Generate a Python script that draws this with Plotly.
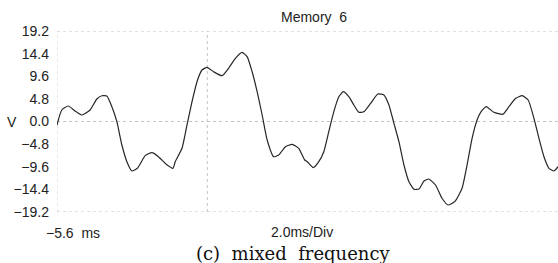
import plotly.graph_objects as go

# time (ms) and voltage (V)
t_ms = [-5.60, -5.41, -5.15, -4.88, -4.61, -4.28, -4.01, -3.81, -3.61, -3.41,
        -3.21, -3.01, -2.81, -2.61, -2.39, -2.08, -1.81, -1.55, -1.24, -0.97,
        -0.88, -0.61, -0.41, -0.21, 0.01, 0.19, 0.39, 0.65, 0.99, 1.25,
        1.52, 1.79, 1.99, 2.19, 2.39, 2.59, 2.79, 3.05, 3.25, 3.52,
        3.79, 4.05, 4.29, 4.39, 4.63, 4.85, 5.05, 5.25, 5.45, 5.65,
        5.83, 6.05, 6.25, 6.45, 6.65, 6.92, 7.21, 7.45, 7.65, 7.85,
        8.05, 8.25, 8.45, 8.65, 8.85, 9.05, 9.24, 9.51, 9.77, 10.01,
        10.28, 10.57, 10.77, 10.97, 11.17, 11.31, 11.53, 11.84, 12.20, 12.44,
        12.71, 12.97, 13.21, 13.44, 13.64, 13.84, 14.04, 14.24, 14.40]
volts = [-0.74, 2.44, 3.29, 2.23, 1.38, 2.44, 4.77, 5.47, 5.41, 3.14,
         -0.04, -4.99, -8.53, -10.50, -9.93, -7.25, -6.62, -7.47, -9.08, -9.93,
         -8.53, -5.69, -0.74, 4.20, 8.80, 10.92, 11.50, 10.56, 9.72, 11.29,
         13.41, 14.68, 13.75, 10.56, 6.32, 1.38, -3.92, -7.47, -7.11, -5.35,
         -4.84, -5.69, -8.17, -8.53, -9.80, -8.53, -6.41, -2.16, 2.08, 5.26,
         6.32, 5.26, 3.50, 1.95, 2.08, 3.86, 5.83, 5.62, 3.50, -0.38,
         -4.29, -9.23, -12.77, -14.38, -14.32, -12.62, -12.20, -13.47, -16.29, -17.71,
         -17.01, -14.17, -9.23, -3.56, 0.32, 1.95, 3.14, 1.95, 1.53, 3.14,
         4.92, 5.47, 4.56, 0.68, -3.56, -7.47, -9.93, -10.50, -9.59]

y_ticks = [19.2, 14.4, 9.6, 4.8, 0.0, -4.8, -9.6, -14.4, -19.2]
x_range = [-5.6, 14.4]
y_range = [-19.2, 19.2]
trigger_ms = 0.4

fig = go.Figure()

grid = dict(color="#c4c4c4", width=1, dash="dot")
for yv in [19.2, 0.0, -19.2]:
    fig.add_shape(type="line", x0=x_range[0], x1=x_range[1], y0=yv, y1=yv,
                  xref="x", yref="y", line=grid, layer="below")
fig.add_shape(type="line", x0=trigger_ms, x1=trigger_ms, y0=y_range[0], y1=y_range[1],
              xref="x", yref="y", line=grid, layer="below")
fig.add_shape(type="line", x0=x_range[0], x1=x_range[0], y0=y_range[0], y1=y_range[1],
              xref="x", yref="y", line=dict(color="#d0d0d0", width=1, dash="dot"), layer="below")

fig.add_trace(go.Scatter(x=t_ms, y=volts, mode="lines",
                         line=dict(color="#262626", width=1.2, shape="spline", smoothing=0.5),
                         hoverinfo="skip", showlegend=False))

font = "Liberation Sans, Arial, sans-serif"
fig.update_layout(
    width=558, height=263,
    margin=dict(l=57, r=0, t=31, b=51),
    paper_bgcolor="white", plot_bgcolor="white",
    font=dict(family=font, size=14, color="#222222"),
    xaxis=dict(range=x_range, showgrid=False, zeroline=False, showticklabels=False,
               showline=False, ticks=""),
    yaxis=dict(range=y_range, tickvals=y_ticks, tickformat=".1f", showgrid=False,
               zeroline=False, showline=False, ticks="", ticklabelstandoff=7,
               tickfont=dict(family=font, size=14, color="#222222")),
)

ann = [
    dict(text="Memory  6", x=0.513, y=1.077, xanchor="center", yanchor="middle", font=dict(size=14)),
    dict(text="V", x=-0.104, y=0.497, xanchor="left", yanchor="middle", font=dict(size=14)),
    dict(text="−5.6  ms", x=-0.026, y=-0.116, xanchor="left", yanchor="middle", font=dict(size=14)),
    dict(text="2.0ms/Div", x=0.489, y=-0.113, xanchor="center", yanchor="middle", font=dict(size=14)),
    dict(text="(c)  mixed  frequency", x=0.472, y=-0.227, xanchor="center", yanchor="middle",
         font=dict(family="DejaVu Serif, Liberation Serif, serif", size=18, color="#111111")),
]
for a in ann:
    a.update(xref="paper", yref="paper", showarrow=False)
    fig.add_annotation(**a)

fig.write_html("out.html", config={"displayModeBar": False},
               post_script="document.body.style.margin='0';document.body.style.overflow='hidden';")
